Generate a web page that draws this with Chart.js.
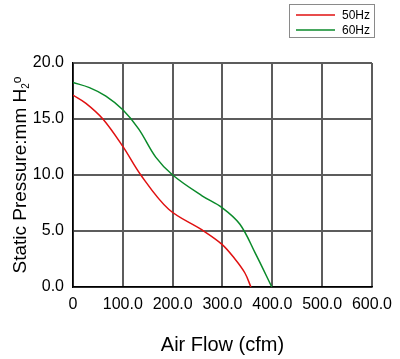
<!DOCTYPE html>
<html>
<head>
<meta charset="utf-8">
<script src="https://cdn.jsdelivr.net/npm/chart.js@4"></script>
<style>
  html, body { margin: 0; padding: 0; background: #fff; }
  #wrap { width: 400px; height: 359px; }
</style>
</head>
<body>
<div id="wrap"><canvas id="fanChart"></canvas></div>
<script>
// curve values
const flow50 = [0, 26, 60, 100, 136, 192, 259, 299, 325, 345, 357];
const pressure50 = [17.13, 16.4, 15.0, 12.55, 10.0, 6.94, 5.09, 3.81, 2.5, 1.25, 0];
const flow60 = [0, 33, 66, 100, 132, 166, 200, 259, 299, 335, 366, 399];
const pressure60 = [18.26, 17.8, 17.04, 15.82, 14.1, 11.6, 10.0, 8.14, 7.09, 5.6, 3.0, 0];
const seriesNames = ['50Hz', '60Hz'];
const xTicks = [0, 100, 200, 300, 400, 500, 600];
const yTicks = [0, 5, 10, 15, 20];

const FONT = '"Liberation Sans", Arial, sans-serif';

function toPoints(xs, ys) {
    return xs.map((x, i) => ({ x: x, y: ys[i] }));
}

// axis titles + boxed legend, drawn by hand so the H2O subscripts come out
const extras = {
    id: 'extras',
    afterDraw(chart) {
        const ctx = chart.ctx;
        const area = chart.chartArea;
        ctx.save();

        // x title
        ctx.fillStyle = '#000';
        ctx.font = '20px ' + FONT;
        ctx.textAlign = 'center';
        ctx.textBaseline = 'middle';
        ctx.fillText('Air Flow (cfm)', (area.left + area.right) / 2, 345);

        // y title, rotated
        ctx.translate(26, 175);
        ctx.rotate(-Math.PI / 2);
        ctx.textBaseline = 'alphabetic';
        ctx.textAlign = 'left';
        const main = 'Static Pressure:mm H';
        ctx.font = '19px ' + FONT;
        const w1 = ctx.measureText(main).width;
        ctx.font = '10px ' + FONT;
        const w2 = ctx.measureText('2').width;
        ctx.font = '12px ' + FONT;
        const w3 = ctx.measureText('o').width;
        let x0 = -(w1 + w2 + w3) / 2;
        ctx.font = '19px ' + FONT;
        ctx.fillText(main, x0, 0);
        ctx.font = '10px ' + FONT;
        ctx.fillText('2', x0 + w1, 3);
        ctx.font = '12px ' + FONT;
        ctx.fillText('o', x0 + w1 + w2, -5);
        ctx.setTransform(1, 0, 0, 1, 0, 0);

        // legend box
        ctx.strokeStyle = '#8a8a8a';
        ctx.lineWidth = 1;
        ctx.strokeRect(289.5, 4.5, 85, 33);
        ctx.font = '12px ' + FONT;
        ctx.textAlign = 'left';
        ctx.textBaseline = 'middle';
        chart.data.datasets.forEach((ds, i) => {
            const y = 15 + i * 15;
            ctx.strokeStyle = ds.borderColor;
            ctx.lineWidth = 1.5;
            ctx.beginPath();
            ctx.moveTo(296, y);
            ctx.lineTo(335, y);
            ctx.stroke();
            ctx.fillStyle = '#000';
            ctx.fillText(ds.label, 342, y + 1);
        });
        ctx.restore();
    }
};

const chart = new Chart(document.getElementById('fanChart'), {
    type: 'line',
    data: {
        datasets: [
            {
                label: seriesNames[0],
                data: toPoints(flow50, pressure50),
                borderColor: '#e01010',
                borderWidth: 1.5,
                pointRadius: 0,
                tension: 0.35,
                fill: false
            },
            {
                label: seriesNames[1],
                data: toPoints(flow60, pressure60),
                borderColor: '#0a8a2a',
                borderWidth: 1.5,
                pointRadius: 0,
                tension: 0.35,
                fill: false
            }
        ]
    },
    options: {
        responsive: true,
        maintainAspectRatio: false,
        animation: false,
        layout: { padding: { top: 63, right: 27, left: 0, bottom: 0 } },
        plugins: {
            legend: { display: false },
            tooltip: { enabled: false }
        },
        scales: {
            x: {
                type: 'linear',
                min: xTicks[0],
                max: xTicks[xTicks.length - 1],
                afterBuildTicks: (scale) => { scale.ticks = xTicks.map(v => ({ value: v })); },
                afterFit: (scale) => { scale.height = 72; },
                ticks: {
                    color: '#000',
                    font: { family: FONT, size: 16 },
                    padding: 8,
                    maxRotation: 0,
                    callback: (v) => v === 0 ? '0' : v.toFixed(1)
                },
                grid: { color: '#5c5c5c', lineWidth: 2, drawTicks: false },
                border: { color: '#000', width: 1.5 }
            },
            y: {
                min: yTicks[0],
                max: yTicks[yTicks.length - 1],
                afterBuildTicks: (scale) => { scale.ticks = yTicks.map(v => ({ value: v })); },
                afterFit: (scale) => { scale.width = 73; },
                ticks: {
                    color: '#000',
                    font: { family: FONT, size: 16 },
                    padding: 9,
                    callback: (v) => v.toFixed(1)
                },
                grid: { color: '#5c5c5c', lineWidth: 2, drawTicks: false },
                border: { color: '#000', width: 1.5 }
            }
        }
    },
    plugins: [extras]
});
</script>
</body>
</html>
